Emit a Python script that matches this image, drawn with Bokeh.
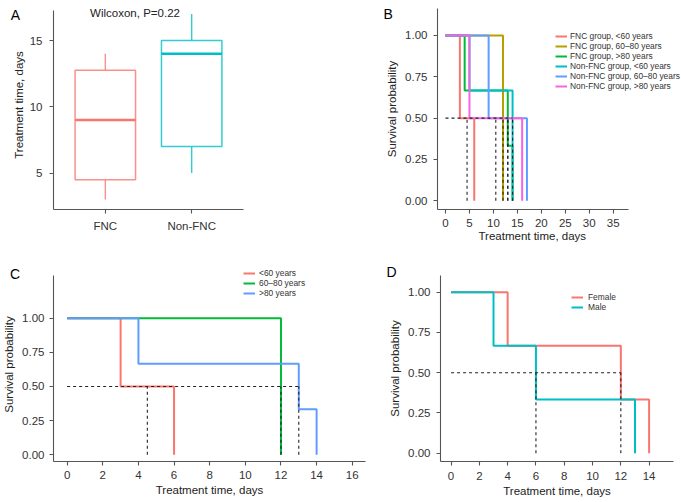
from bokeh.plotting import figure
from bokeh.models import Range1d, FixedTicker, NumeralTickFormatter, Label, Legend, LegendItem, Title
from bokeh.layouts import column, row
from bokeh.embed import file_html
from bokeh.resources import INLINE

FONT = "Liberation Sans"

# ---------------- Panel A data (box plot) ----------------
a_groups = ["FNC", "Non-FNC"]
a_colors = ["#F8766D", "#00BFC4"]
a_whisker_low = [3, 5]
a_q1 = [4.5, 7]
a_median = [9, 14]
a_q3 = [12.75, 15]
a_whisker_high = [14, 17]
a_yticks = [5, 10, 15]
a_pvalue_text = "Wilcoxon, P=0.22"

# ---------------- Panel B data (KM by group & age) ----------------
b_labels = ["FNC group, <60 years", "FNC group, 60\u201380 years", "FNC group, >80 years",
            "Non-FNC group, <60 years", "Non-FNC group, 60\u201380 years", "Non-FNC group, >80 years"]
b_colors = ["#F8766D", "#B79F00", "#00BA38", "#00BFC4", "#619CFF", "#F564E3"]
b_fnc_lt60_t = [0, 3, 6]
b_fnc_lt60_s = [1.0, 0.5, 0.0]
b_fnc_6080_t = [0, 12]
b_fnc_6080_s = [1.0, 0.0]
b_fnc_gt80_t = [0, 4, 13, 14]
b_fnc_gt80_s = [1.0, 0.667, 0.333, 0.0]
b_non_lt60_t = [0, 5, 14]
b_non_lt60_s = [1.0, 0.667, 0.0]
b_non_6080_t = [0, 9, 17]
b_non_6080_s = [1.0, 0.5, 0.0]
b_non_gt80_t = [0, 5, 16]
b_non_gt80_s = [1.0, 0.5, 0.0]
b_medians = [4.5, 12, 13, 14, 13, 10.5]
b_xticks = [0, 5, 10, 15, 20, 25, 30, 35]

# ---------------- Panel C data (KM by age) ----------------
c_labels = ["<60 years", "60\u201380 years", ">80 years"]
c_colors = ["#F8766D", "#00BA38", "#619CFF"]
c_lt60_t = [0, 3, 6]
c_lt60_s = [1.0, 0.5, 0.0]
c_6080_t = [0, 12]
c_6080_s = [1.0, 0.0]
c_gt80_t = [0, 4, 13, 14]
c_gt80_s = [1.0, 0.667, 0.333, 0.0]
c_medians = [4.5, 12, 13]
c_xticks = [0, 2, 4, 6, 8, 10, 12, 14, 16]

# ---------------- Panel D data (KM by sex) ----------------
d_labels = ["Female", "Male"]
d_colors = ["#F8766D", "#00BFC4"]
d_female_t = [0, 4, 12, 14]
d_female_s = [1.0, 0.667, 0.333, 0.0]
d_male_t = [0, 3, 6, 13]
d_male_s = [1.0, 0.667, 0.333, 0.0]
d_medians = [12, 6]
d_xticks = [0, 2, 4, 6, 8, 10, 12, 14]

surv_yticks = [0, 0.25, 0.5, 0.75, 1.0]
x_title = "Treatment time, days"
y_title_surv = "Survival probability"
y_title_a = "Treatment time, days"


def make_fig(w, h, xr, yr, bl, br, bt, bb):
    p = figure(width=w, height=h, x_range=Range1d(*xr), y_range=Range1d(*yr),
               output_backend="svg", toolbar_location=None, title=None, frame_align=False,
               min_border_left=bl, min_border_right=br, min_border_top=bt, min_border_bottom=bb)
    p.xgrid.visible = False
    p.ygrid.visible = False
    p.outline_line_color = None
    p.background_fill_color = "white"
    p.border_fill_color = "white"
    for ax in list(p.xaxis) + list(p.yaxis):
        ax.axis_line_color = "#555555"
        ax.axis_line_width = 1.1
        ax.major_tick_line_color = "#555555"
        ax.major_tick_line_width = 1.1
        ax.major_tick_in = 0
        ax.major_tick_out = 4
        ax.minor_tick_line_color = None
        ax.major_label_text_font = FONT
        ax.major_label_text_font_size = "11.5px"
        ax.major_label_text_color = "#333333"
        ax.axis_label_text_font = FONT
        ax.axis_label_text_font_size = "11.5px"
        ax.axis_label_text_font_style = "normal"
        ax.axis_label_text_color = "#222222"
    return p


def panel_letter(p, x, y, txt, side):
    p.add_layout(Label(x=x, y=y, text=txt, text_font=FONT, text_font_size="14px",
                       text_color="black", text_baseline="alphabetic", text_align="left"), side)


def km_panel(p, times, survs, colors, labels, medians, legend_loc, stand):
    items = []
    for t, s, c, lab in zip(times, survs, colors, labels):
        r = p.step(x=t, y=s, mode="after", line_color=c, line_width=2)
        items.append(LegendItem(label=lab, renderers=[r]))
    n = len(medians)
    x0 = [0] + list(medians)
    x1 = [max(medians)] + list(medians)
    y0 = [0.5] + [0.0] * n
    y1 = [0.5] + [0.5] * n
    p.segment(x0=x0, y0=y0, x1=x1, y1=y1, line_color="#222222", line_width=1.1, line_dash="3 3")
    leg = Legend(items=items, location=legend_loc, glyph_width=12, glyph_height=10,
                 label_height=10, label_standoff=stand, spacing=0, padding=0, margin=0,
                 border_line_alpha=0, background_fill_alpha=0,
                 label_text_font=FONT, label_text_font_size="8.4px", label_text_color="#333333")
    p.add_layout(leg)
    p.yaxis.ticker = FixedTicker(ticks=surv_yticks)
    p.yaxis.formatter = NumeralTickFormatter(format="0.00")
    p.yaxis.axis_label = y_title_surv


# ---------------- Panel A ----------------
pA = make_fig(340, 250, (0.4, 2.6), (2.255, 18.017), 51, 97, 0, 41)
a_pos = [i + 1 for i in range(len(a_groups))]
half = 0.35
pA.segment(x0=a_pos, y0=a_whisker_low, x1=a_pos, y1=a_q1, line_color=a_colors, line_width=1.4, line_alpha=0.8)
pA.segment(x0=a_pos, y0=a_q3, x1=a_pos, y1=a_whisker_high, line_color=a_colors, line_width=1.4, line_alpha=0.8)
pA.quad(left=[x - half for x in a_pos], right=[x + half for x in a_pos], bottom=a_q1, top=a_q3,
        fill_color="white", line_color=a_colors, line_width=1.5, line_alpha=0.8)
pA.segment(x0=[x - half for x in a_pos], y0=a_median, x1=[x + half for x in a_pos], y1=a_median,
           line_color=a_colors, line_width=2.4)
pA.xaxis.ticker = FixedTicker(ticks=a_pos)
pA.xaxis.major_label_overrides = {p: g for p, g in zip(a_pos, a_groups)}
pA.yaxis.ticker = FixedTicker(ticks=a_yticks)
pA.yaxis.bounds = (2.255, 17.26)
pA.yaxis.axis_label = y_title_a
pA.yaxis.major_label_standoff = 7
pA.yaxis.axis_label_standoff = 2
pA.xaxis.major_label_standoff = 6
pA.add_layout(Label(x=0.824, y=17.11, text=a_pvalue_text, text_font=FONT, text_font_size="11.5px",
                    text_color="#222222", text_baseline="middle", text_align="left"))
panel_letter(pA, -0.096, 16.96, "A", "left")

# ---------------- Panel B ----------------
pB = make_fig(341, 250, (-1.67, 49.26), (-0.0526, 1.163), 97, 0, 8, 41)
km_panel(pB,
         [b_fnc_lt60_t, b_fnc_6080_t, b_fnc_gt80_t, b_non_lt60_t, b_non_6080_t, b_non_gt80_t],
         [b_fnc_lt60_s, b_fnc_6080_s, b_fnc_gt80_s, b_non_lt60_s, b_non_6080_s, b_non_gt80_s],
         b_colors, b_labels, b_medians, (118, 118), 3)
pB.xaxis.ticker = FixedTicker(ticks=b_xticks)
pB.xaxis.bounds = (-1.67, 38.26)
pB.yaxis.major_label_standoff = 6
pB.yaxis.axis_label_standoff = 4
pB.xaxis.major_label_standoff = 5
pB.add_layout(Title(text=x_title, align="left", offset=41, standoff=0, vertical_align="top",
                    text_font=FONT, text_font_size="11.5px", text_font_style="normal",
                    text_color="#222222"), "below")
panel_letter(pB, -12.94, 1.127, "B", "left")

# ---------------- Panel C ----------------
pC = make_fig(386, 252, (-0.766, 16.744), (-0.049, 1.371), 52, 21, 17, 41)
km_panel(pC, [c_lt60_t, c_6080_t, c_gt80_t], [c_lt60_s, c_6080_s, c_gt80_s],
         c_colors, c_labels, c_medians, (190, 163), 4)
pC.xaxis.ticker = FixedTicker(ticks=c_xticks)
pC.xaxis.axis_label = x_title
pC.yaxis.bounds = (-0.049, 1.3126)
pC.yaxis.major_label_standoff = 5
pC.yaxis.axis_label_standoff = 4
pC.xaxis.major_label_standoff = 5
pC.xaxis.axis_label_standoff = 2
panel_letter(pC, -3.211, 1.325, "C", "right")

# ---------------- Panel D ----------------
pD = make_fig(295, 252, (-0.747, 15.723), (-0.0516, 1.104), 51, 8, 25, 41)
km_panel(pD, [d_female_t, d_male_t], [d_female_s, d_male_s],
         d_colors, d_labels, d_medians, (131, 149), 5)
pD.xaxis.ticker = FixedTicker(ticks=d_xticks)
pD.xaxis.axis_label = x_title
pD.yaxis.major_label_standoff = 6
pD.yaxis.axis_label_standoff = 4
pD.xaxis.major_label_standoff = 6
pD.xaxis.axis_label_standoff = 2
panel_letter(pD, -4.564, 1.124, "D", "above")

layout = column(row(pA, pB), row(pC, pD))
open("out.html", "w").write(file_html(layout, INLINE))
